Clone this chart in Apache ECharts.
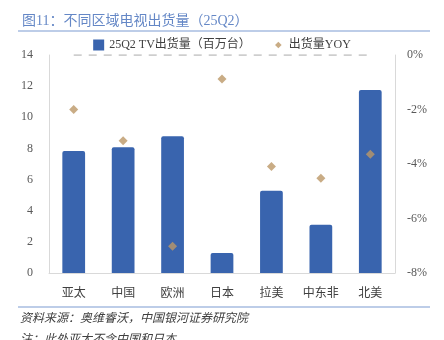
<!DOCTYPE html>
<html><head><meta charset="utf-8">
<script src="https://cdn.jsdelivr.net/npm/echarts@6/dist/echarts.min.js"></script>
<style>html,body{margin:0;padding:0;background:#fff}#c{width:444px;height:340px}</style>
</head><body><div id="c"></div>
<script>
var categories = ['亚太','中国','欧洲','日本','拉美','中东非','北美'];
var shipments = [7.84, 8.07, 8.79, 1.28, 5.28, 3.10, 11.75];
var yoy = [-2.0, -3.15, -7.02, -0.88, -4.09, -4.52, -3.64];
var zeroLine = [0, 0, 0, 0, 0, 0, 0];
var leftTicks = {min: 0, max: 14, interval: 2};
var rightTicks = {min: -8, max: 0, interval: 2};

var FONT = '"Liberation Serif", "Noto Sans CJK SC", serif';
var chart = echarts.init(document.getElementById('c'), null, {renderer: 'canvas'});
chart.setOption({
  animation: false,
  textStyle: {fontFamily: FONT},
  title: {
    text: '图11：不同区域电视出货量（25Q2）', left: 17, top: 9,
    textStyle: {fontSize: 14, fontWeight: 'normal', color: '#6487c6', fontFamily: FONT}
  },
  graphic: [
    {type: 'line', shape: {x1: 18, y1: 31, x2: 430, y2: 31}, style: {stroke: '#7c9bd2', lineWidth: 1.2}},
    {type: 'line', shape: {x1: 18, y1: 307, x2: 430, y2: 307}, style: {stroke: '#7c9bd2', lineWidth: 1.2}},
    {type: 'text', left: 20, top: 313, style: {text: '资料来源：奥维睿沃，中国银河证券研究院', fontSize: 12, fontStyle: 'italic', fill: '#404040', fontFamily: FONT}},
    {type: 'text', left: 20, top: 334, style: {text: '注：此处亚太不含中国和日本', fontSize: 12, fontStyle: 'italic', fill: '#404040', fontFamily: FONT}}
  ],
  legend: {
    top: 34, left: 'center', itemGap: 22, itemWidth: 11, itemHeight: 11,
    textStyle: {fontSize: 12, color: '#404040', fontFamily: FONT},
    data: [{name: '25Q2 TV出货量（百万台）', icon: 'rect'},
           {name: '出货量YOY', icon: 'path://M0,0L0.01,0L0,0.01Z M10,10L9.99,10L10,9.99Z M5,2L8,5L5,8L2,5Z'}]
  },
  grid: {left: 49, right: 49, top: 55, bottom: 67},
  xAxis: {
    type: 'category', data: categories,
    axisLine: {lineStyle: {color: '#d9d9d9'}}, axisTick: {show: false},
    axisLabel: {color: '#404040', fontSize: 12, margin: 15, fontFamily: FONT}
  },
  yAxis: [
    {type: 'value', min: leftTicks.min, max: leftTicks.max, interval: leftTicks.interval,
     axisLine: {show: true, lineStyle: {color: '#d9d9d9'}}, axisTick: {show: false},
     splitLine: {show: false},
     axisLabel: {color: '#595959', fontSize: 12, margin: 16, fontFamily: FONT}},
    {type: 'value', min: rightTicks.min, max: rightTicks.max, interval: rightTicks.interval,
     axisLine: {show: true, lineStyle: {color: '#d9d9d9'}}, axisTick: {show: false},
     splitLine: {show: false},
     axisLabel: {color: '#595959', fontSize: 12, margin: 12, formatter: '{value}%', fontFamily: FONT}}
  ],
  series: [
    {name: '25Q2 TV出货量（百万台）', type: 'bar', data: shipments, barWidth: '46%',
     itemStyle: {color: '#3964ae', borderRadius: [2, 2, 0, 0]}},
    {name: '出货量YOY', type: 'scatter', yAxisIndex: 1, data: yoy,
     symbol: 'diamond', symbolSize: 9, itemStyle: {color: '#bb9766'}, z: 5},
    {name: 'zero', type: 'line', yAxisIndex: 1, data: zeroLine, symbol: 'none',
     lineStyle: {color: '#bfbfbf', type: [8, 7], width: 1.5}, silent: true}
  ]
});
</script></body></html>
